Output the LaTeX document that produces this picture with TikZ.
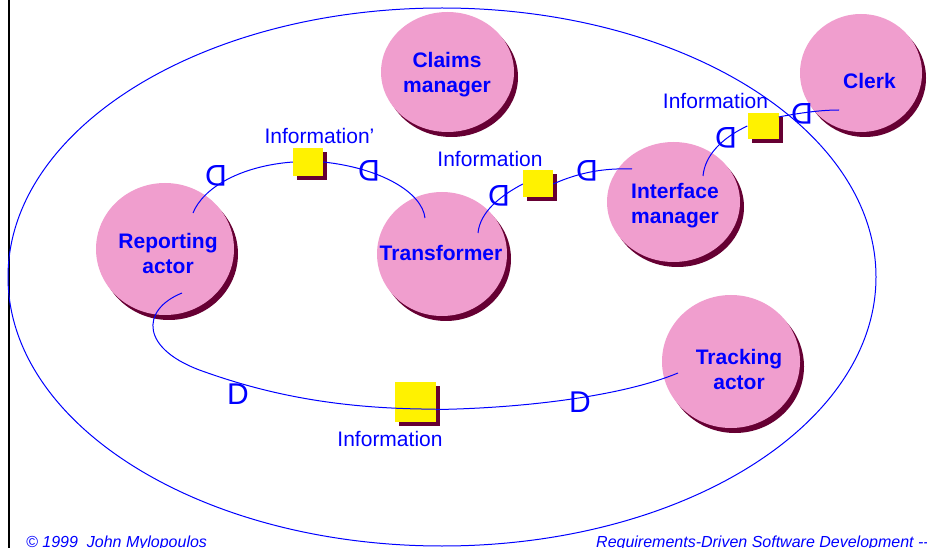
\documentclass[tikz,border=0pt]{standalone}
\usepackage{fontspec}
\setmainfont{Liberation Sans}
\usetikzlibrary{calc,positioning,shapes.geometric,shadows}
\definecolor{actorpink}{RGB}{240,158,206}
\definecolor{shadowred}{RGB}{102,0,51}
\definecolor{linkblue}{RGB}{0,0,255}

\begin{document}
\begin{tikzpicture}[x=1pt,y=-1pt,
  actor/.style={ellipse,fill=actorpink,inner sep=0pt,
    drop shadow={fill=shadowred,opacity=1,shadow xshift=4pt,shadow yshift=-5pt}},
  actorname/.style={font=\bfseries\fontsize{21}{25}\selectfont,text=linkblue,align=center,
    text height=15pt,text depth=4pt,inner sep=0pt},
  res/.style={rectangle,fill=yellow,inner sep=0pt,
    drop shadow={fill=shadowred,opacity=1,shadow xshift=4pt,shadow yshift=-4pt}},
  reslabel/.style={font=\fontsize{21}{25}\selectfont,text=linkblue,anchor=base,inner sep=0pt},
  dep/.style={font=\fontsize{30}{30}\selectfont,text=linkblue,inner sep=0pt},
  link/.style={draw=linkblue,line width=1pt},
  footer/.style={font=\itshape\fontsize{16}{18}\selectfont,text=linkblue,anchor=base west,inner sep=0pt}]
\useasboundingbox (0,0) rectangle (927,548);
\draw[line width=2pt](8.5,0)--(8.5,548);
\draw[link](442,277) ellipse [x radius=434,y radius=269];
% actors
\node[actor,minimum width=133pt,minimum height=120pt](claims) at (447.5,72){};
\node[actor,minimum width=122pt,minimum height=118pt](clerk) at (861,73){};
\node[actor,minimum width=138pt,minimum height=132pt](rep) at (165,249){};
\node[actor,minimum width=130pt,minimum height=124pt](trans) at (442,254){};
\node[actor,minimum width=133pt,minimum height=120pt](iface) at (673.5,202){};
\node[actor,minimum width=138pt,minimum height=133pt](track) at (731,361.5){};
\node[actorname](claims-t) at (447,87.5){Claims\\manager};
\node[actorname](clerk-t) at (869.5,83.5){Clerk};
\node[actorname](rep-t) at (168,268.5){Reporting\\actor};
\node[actorname](trans-t) at (441,255.5){Transformer};
\node[actorname](iface-t) at (675,218){Interface\\manager};
\node[actorname](track-t) at (739,384){Tracking\\actor};
% resources
\node[res,minimum width=30pt,minimum height=28pt](res1) at (308,162){};
\node[res,minimum width=30pt,minimum height=27pt](res2) at (538,184){};
\node[res,minimum width=31pt,minimum height=26pt](res3) at (763,126){};
\node[res,minimum width=41pt,minimum height=40pt](res4) at (415,402){};
\node[reslabel](res1-t) at (319.5,144){Information’};
\node[reslabel](res2-t) at (490,167){Information};
\node[reslabel](res3-t) at (715.5,109){Information};
\node[reslabel](res4-t) at (390,446){Information};
% link ends inside the actors
\coordinate(rep-a) at (193,213);
\coordinate(rep-b) at (182,293);
\coordinate(trans-a) at (425,218);
\coordinate(trans-b) at (478,233);
\coordinate(iface-a) at (632,169);
\coordinate(iface-b) at (703,176);
\coordinate(clerk-a) at (839,110);
\coordinate(track-a) at (678,373);
\draw[link](rep-a)..controls(203,188)and(240,166)..(res1.west);
\draw[link](res1.east)..controls(380,168)and(422,192)..(trans-a);
\draw[link](trans-b)..controls(480,212)and(500,196)..(res2.west);
\draw[link](res2.east)..controls(580,172)and(605,168)..(iface-a);
\draw[link](iface-b)..controls(705,155)and(722,138)..(res3.west);
\draw[link](res3.30)..controls(800,113)and(820,110)..(clerk-a);
\draw[link](rep-b)..controls(140,310)and(140,350)..(205,372)
  ..controls(270,395)and(340,409)..(res4.-19);
\draw[link](res4.-20)..controls(530,408)and(625,395)..(track-a);
% dependency marks
\node[dep,rotate=180](d1) at (216,176){D};
\node[dep,rotate=180](d2) at (369,171){D};
\node[dep,rotate=180](d3) at (499,196){D};
\node[dep,rotate=180](d4) at (587,171){D};
\node[dep,rotate=180](d5) at (726,138){D};
\node[dep,rotate=180](d6) at (802,114){D};
\node[dep](d7) at (238,394){D};
\node[dep](d8) at (580,402){D};
\node[footer](copy) at (26,547){\textcopyright{} 1999~~John Mylopoulos};
\node[footer](title) at (596,547){Requirements-Driven Software Development -{}-};
\end{tikzpicture}
\end{document}
